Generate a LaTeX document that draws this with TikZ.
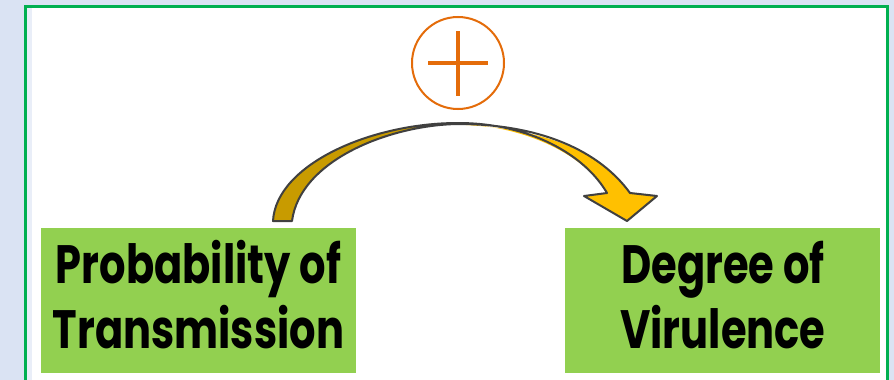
\documentclass[tikz,border=0pt]{standalone}
\usepackage{fontspec}
\setmainfont[FakeStretch=0.77]{Poppins}
\usetikzlibrary{positioning}

\definecolor{boxgreen}{HTML}{92D050}
\definecolor{framegreen}{HTML}{00B050}
\definecolor{slideblue}{HTML}{DAE3F3}
\definecolor{plusorange}{HTML}{E46C0A}
\definecolor{arrowdark}{HTML}{C89B00}
\definecolor{arrowgold}{HTML}{FFC000}
\definecolor{arrowline}{HTML}{404040}

\begin{document}
\begin{tikzpicture}
    [x=1pt, y=-1pt, node distance=209pt,
     factor/.style={rectangle, fill=boxgreen, minimum width=315pt,
       minimum height=145pt, inner sep=0pt, align=center, text depth=12pt,
       font=\bfseries\fontsize{54}{65}\selectfont},
     sign/.style={circle, draw=plusorange, line width=2pt,
       minimum size=92pt, inner sep=0pt}]

    \useasboundingbox (0,0) rectangle (894,380);
    \fill[slideblue] (0,0) rectangle (894,380);
    \filldraw[fill=white, draw=framegreen, line width=3pt]
      (25,6) rectangle (887,395);
    \fill[slideblue!60] (26.5,7.5) rectangle (32,380);

    \node[factor] (prob) at (198.5,300.5) {Probability of\\Transmission};
    \node[factor, right=of prob] (viru) {Degree of\\Virulence};

    \node[sign] (plus) at (458,63) {};
    \draw[plusorange, line width=4pt]
      ([xshift=-30pt]plus.center) -- ([xshift=30pt]plus.center)
      ([yshift=32pt]plus.center) -- ([yshift=-33pt]plus.center);

    % curved block arrow from prob to viru
    \fill[arrowdark] (273,221) .. controls (276,165) and (370,123) .. (458,123)
      .. controls (390,125) and (300,160) .. (292,221) -- cycle;
    \fill[arrowgold] (430,124) .. controls (520,119) and (585,155) .. (607,193)
      -- (584,196) -- (627,221) -- (657,196) -- (630,193)
      .. controls (595,145) and (530,124) .. (430,124) -- cycle;
    \draw[arrowline, line width=2pt, line join=round]
      (273,221) .. controls (276,165) and (370,123) .. (458,123)
      .. controls (530,123) and (585,155) .. (607,193)
      -- (584,196) -- (627,221) -- (657,196) -- (630,193)
      .. controls (595,145) and (530,124) .. (458,124)
      .. controls (390,125) and (300,160) .. (292,221) -- cycle;
  \end{tikzpicture}
\end{document}
